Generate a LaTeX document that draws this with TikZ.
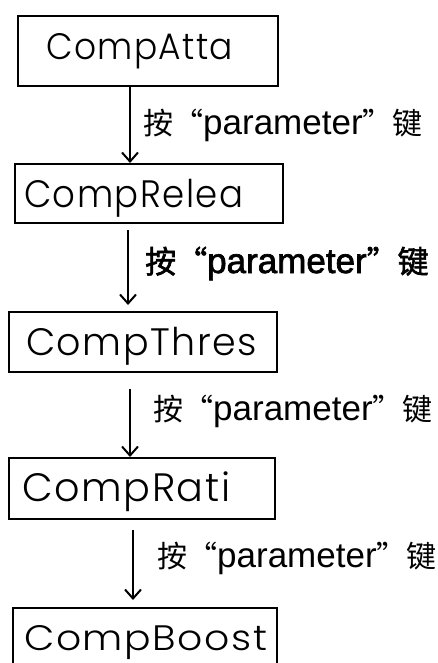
\documentclass[tikz,border=0pt]{standalone}
\usepackage{fontspec}
\usetikzlibrary{arrows.meta}
\newfontfamily\boxfont{Poppins Light}[LetterSpace=4]
\newfontfamily\cjk{Noto Sans CJK SC}
\newfontfamily\lat{Liberation Sans}
\newfontfamily\cjkb{Noto Sans CJK SC}[FakeBold=2]
\newfontfamily\latb{Liberation Sans}[FakeBold=2]
\newcommand{\lbltext}{{\cjk\fontsize{30}{30}\selectfont 按“}{\lat\fontsize{35}{35}\selectfont parameter}{\cjk\fontsize{30}{30}\selectfont ”键}}
\newcommand{\lbltextbold}{{\cjkb\fontsize{31}{31}\selectfont 按“}{\latb\fontsize{35}{35}\selectfont parameter}{\cjkb\fontsize{31}{31}\selectfont ”键}}
% stage text: width, cap height, text
\newcommand{\stagetext}[3]{\resizebox{#1pt}{#2pt}{\smash{\boxfont\fontsize{36}{36}\selectfont #3}\vphantom{\boxfont\fontsize{36}{36}\selectfont C}}}
\tikzset{
  stage/.style={draw=black, line width=2pt, rectangle, anchor=north west, inner sep=0pt},
  stagelabel/.style={anchor=base west, inner sep=0pt},
  arr/.style={line width=2pt, -{Straight Barb[length=9pt,width=16pt,line width=2pt]}},
  lbl/.style={anchor=base west, inner sep=0pt}
}
\begin{document}
\begin{tikzpicture}[x=1pt,y=1pt]
\useasboundingbox (0,0) rectangle (437,-663);
\clip (0,0) rectangle (437,-663);
\node[stage, minimum width=260pt, minimum height=70pt] (a) at (17,-15) {};
\node[stage, minimum width=268pt, minimum height=59pt] (b) at (14,-163) {};
\node[stage, minimum width=268pt, minimum height=60pt] (c) at (8,-311) {};
\node[stage, minimum width=266pt, minimum height=61pt] (d) at (8,-457) {};
\node[stage, minimum width=264pt, minimum height=70pt] (e) at (12,-607) {};
\node[stagelabel] (at) at (46,-60) {\stagetext{187}{26}{CompAtta}};
\node[stagelabel] (bt) at (24,-207) {\stagetext{219}{27}{CompRelea}};
\node[stagelabel] (ct) at (26,-355) {\stagetext{231}{27}{CompThres}};
\node[stagelabel] (dt) at (22,-501) {\stagetext{208}{28}{CompRati}};
\node[stagelabel] (et) at (24,-650) {\stagetext{243}{25}{CompBoost}};
\draw[arr] (130,0 |- a.south) -- (130,0 |- b.north);
\draw[arr, shorten <=6pt, shorten >=6pt] (128,0 |- b.south) -- (128,0 |- c.north);
\draw[arr, shorten <=16pt] (130,0 |- c.south) -- (130,0 |- d.north);
\draw[arr, shorten <=10pt, shorten >=7pt] (133,0 |- d.south) -- (133,0 |- e.north);
\node[lbl] (l1) at (143,-135) {\lbltext};
\node[lbl] (l2) at (145,-273) {\lbltextbold};
\node[lbl] (l3) at (153,-420) {\lbltext};
\node[lbl] (l4) at (157,-567) {\lbltext};
\end{tikzpicture}
\end{document}
